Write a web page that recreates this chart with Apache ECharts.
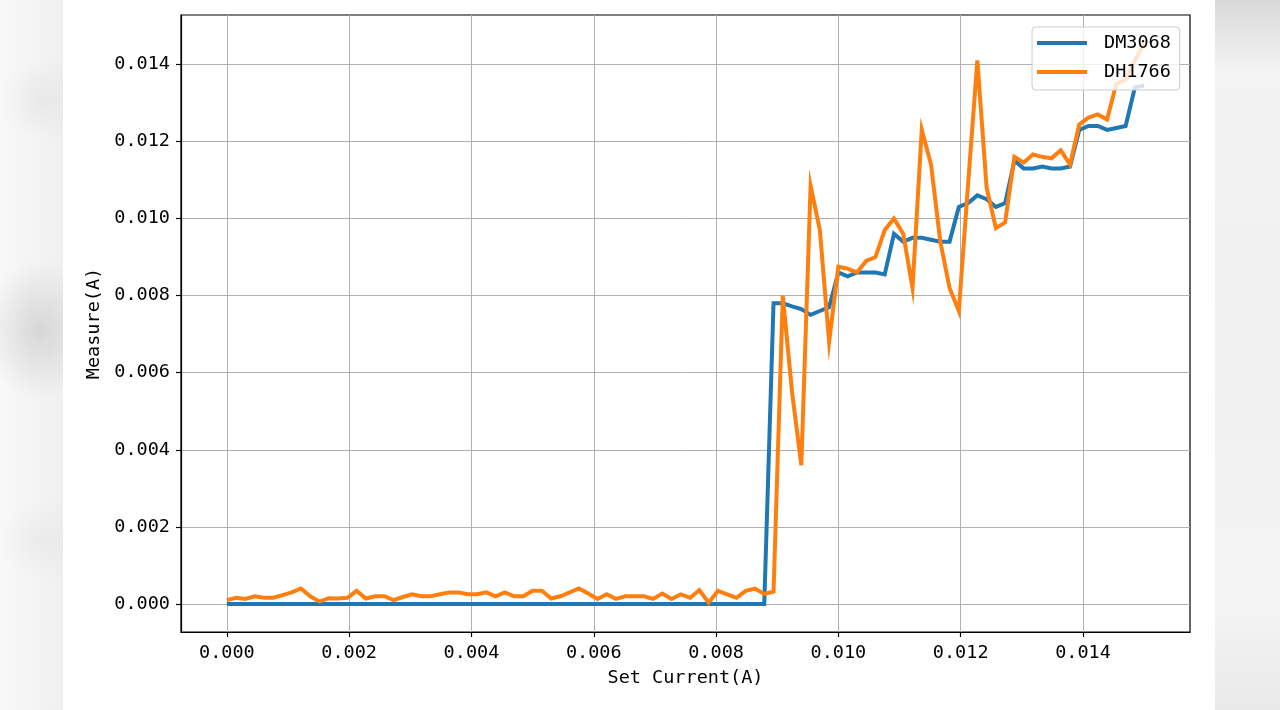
<!DOCTYPE html>
<html>
<head>
<meta charset="utf-8">
<script src="https://cdn.jsdelivr.net/npm/echarts@6/dist/echarts.min.js"></script>
<style>
html,body{margin:0;padding:0;background:#fff;}
#wrap{position:relative;width:1280px;height:710px;overflow:hidden;background:#fff;}
#sideL{position:absolute;left:0;top:0;width:63px;height:710px;
 background:
  radial-gradient(ellipse 55px 70px at 40px 330px, rgba(205,205,205,0.75), rgba(205,205,205,0) 100%),
  radial-gradient(ellipse 45px 40px at 45px 100px, rgba(225,225,225,0.6), rgba(225,225,225,0) 100%),
  radial-gradient(ellipse 45px 40px at 45px 540px, rgba(228,228,228,0.6), rgba(228,228,228,0) 100%),
  linear-gradient(to right, #f8f8f8, #f0f0f0);}
#sideR{position:absolute;left:1215px;top:0;width:65px;height:710px;
 background:linear-gradient(to bottom,#d9d9d9 0%,#f3f3f3 10%,#f0f0f0 50%,#f4f4f4 85%,#e9e9e9 100%);}
#chart{position:absolute;left:0;top:0;width:1280px;height:710px;}
</style>
</head>
<body>
<div id="wrap">
<div id="sideL"></div>
<div id="sideR"></div>
<div id="chart"></div>
</div>
<script>
// Set current (A)
const setCurrent = [
0,0.0001515,0.0003030,0.0004545,0.0006061,0.0007576,0.0009091,0.0010606,0.0012121,0.0013636,
0.0015152,0.0016667,0.0018182,0.0019697,0.0021212,0.0022727,0.0024242,0.0025758,0.0027273,0.0028788,
0.0030303,0.0031818,0.0033333,0.0034848,0.0036364,0.0037879,0.0039394,0.0040909,0.0042424,0.0043939,
0.0045455,0.0046970,0.0048485,0.0050000,0.0051515,0.0053030,0.0054545,0.0056061,0.0057576,0.0059091,
0.0060606,0.0062121,0.0063636,0.0065152,0.0066667,0.0068182,0.0069697,0.0071212,0.0072727,0.0074242,
0.0075758,0.0077273,0.0078788,0.0080303,0.0081818,0.0083333,0.0084848,0.0086364,0.0087879,0.0089394,
0.0090909,0.0092424,0.0093939,0.0095455,0.0096970,0.0098485,0.0100000,0.0101515,0.0103030,0.0104545,
0.0106061,0.0107576,0.0109091,0.0110606,0.0112121,0.0113636,0.0115152,0.0116667,0.0118182,0.0119697,
0.0121212,0.0122727,0.0124242,0.0125758,0.0127273,0.0128788,0.0130303,0.0131818,0.0133333,0.0134848,
0.0136364,0.0137879,0.0139394,0.0140909,0.0142424,0.0143939,0.0145455,0.0146970,0.0148485,0.0150000
];
// DM3068 measured (A)
const dm3068 = [
0,0,0,0,0,0,0,0,0,0,
0,0,0,0,0,0,0,0,0,0,
0,0,0,0,0,0,0,0,0,0,
0,0,0,0,0,0,0,0,0,0,
0,0,0,0,0,0,0,0,0,0,
0,0,0,0,0,0,0,0,0,0.0078,
0.0078,0.00772,0.00765,0.0075,0.0076,0.0077,0.0086,0.0085,0.0086,0.0086,
0.0086,0.00855,0.0096,0.0094,0.0095,0.0095,0.00945,0.0094,0.0094,0.0103,
0.0104,0.0106,0.0105,0.0103,0.0104,0.0115,0.0113,0.0113,0.01135,0.0113,
0.0113,0.01135,0.0123,0.0124,0.0124,0.0123,0.01235,0.0124,0.0134,0.01345
];
// DH1766 measured (A)
const dh1766 = [
0.0001,0.00016,0.00013,0.0002,0.00016,0.00016,0.00023,0.0003,0.0004,0.0002,
0.00006,0.00015,0.00014,0.00016,0.00034,0.00014,0.0002,0.0002,0.0001,0.00018,
0.00025,0.0002,0.0002,0.00025,0.0003,0.0003,0.00025,0.00025,0.0003,0.0002,
0.0003,0.0002,0.0002,0.00034,0.00034,0.00014,0.0002,0.0003,0.0004,0.00027,
0.00013,0.00025,0.00013,0.0002,0.0002,0.0002,0.00013,0.00027,0.00013,0.00025,
0.00016,0.00036,0.00003,0.00034,0.00025,0.00016,0.00034,0.0004,0.00026,0.00032,
0.0080,0.0055,0.0036,0.01085,0.0097,0.0068,0.00875,0.0087,0.0086,0.0089,
0.0090,0.0097,0.0100,0.0096,0.0082,0.0123,0.0114,0.0094,0.0082,0.0076,
0.0109,0.0141,0.0108,0.00975,0.0099,0.0116,0.01145,0.01166,0.0116,0.01156,
0.01177,0.0114,0.01244,0.01262,0.0127,0.01257,0.0135,0.0136,0.0141,0.01455
];
const xTicks = [0,0.002,0.004,0.006,0.008,0.010,0.012,0.014];
const yTicks = [0,0.002,0.004,0.006,0.008,0.010,0.012,0.014];
const seriesNames = ['DM3068','DH1766'];

const FONT = 'DejaVu Sans Mono';
const pair = (xs, ys) => xs.map((x, i) => [x, ys[i]]);

const chart = echarts.init(document.getElementById('chart'), null, {renderer:'canvas'});
chart.setOption({
  animation:false,
  backgroundColor:'transparent',
  textStyle:{fontFamily:FONT},
  grid:{left:181, top:15, width:1009, height:617, show:true, backgroundColor:'#fff', borderColor:'#000', borderWidth:1.2, containLabel:false},
  legend:{
    data:seriesNames, orient:'vertical', left:1032, top:27,
    backgroundColor:'rgba(255,255,255,0.8)', borderColor:'#cccccc', borderWidth:1, borderRadius:4,
    padding:[6,9,8,5], itemGap:9, itemWidth:50, itemHeight:4, icon:'rect',
    textStyle:{fontFamily:FONT, fontSize:18.5, color:'#000', lineHeight:20, padding:[0,0,0,12]}
  },
  xAxis:{
    type:'value', min:-0.00075, max:0.01575,
    name:'Set Current(A)', nameLocation:'middle', nameGap:37,
    nameTextStyle:{fontFamily:FONT, fontSize:18.5, color:'#000'},
    axisLine:{show:true, onZero:false, lineStyle:{color:'#000', width:1.2}},
    axisTick:{show:true, inside:false, length:5, customValues:xTicks, lineStyle:{color:'#000', width:1.2}},
    axisLabel:{customValues:xTicks, margin:12, fontFamily:FONT, fontSize:18.5, color:'#000', formatter:v=>v.toFixed(3)},
    splitLine:{show:true, lineStyle:{color:'#b0b0b0', width:1}}
  },
  yAxis:{
    type:'value', min:-0.000728, max:0.01528,
    name:'Measure(A)', nameLocation:'middle', nameGap:74, nameRotate:90,
    nameTextStyle:{fontFamily:FONT, fontSize:18.5, color:'#000'},
    axisLine:{show:true, onZero:false, lineStyle:{color:'#000', width:1.2}},
    axisTick:{show:true, inside:false, length:5, customValues:yTicks, lineStyle:{color:'#000', width:1.2}},
    axisLabel:{customValues:yTicks, margin:11, fontFamily:FONT, fontSize:18.5, color:'#000', formatter:v=>v.toFixed(3)},
    splitLine:{show:true, lineStyle:{color:'#b0b0b0', width:1}}
  },
  series:[
    {name:seriesNames[0], type:'line', data:pair(setCurrent, dm3068), showSymbol:false, symbol:'none',
     lineStyle:{color:'#1f77b4', width:4, cap:'butt', join:'miter'}, itemStyle:{color:'#1f77b4'}, z:2},
    {name:seriesNames[1], type:'line', data:pair(setCurrent, dh1766), showSymbol:false, symbol:'none',
     lineStyle:{color:'#ff7f0e', width:4, cap:'butt', join:'miter'}, itemStyle:{color:'#ff7f0e'}, z:3}
  ]
});
</script>
</body>
</html>
